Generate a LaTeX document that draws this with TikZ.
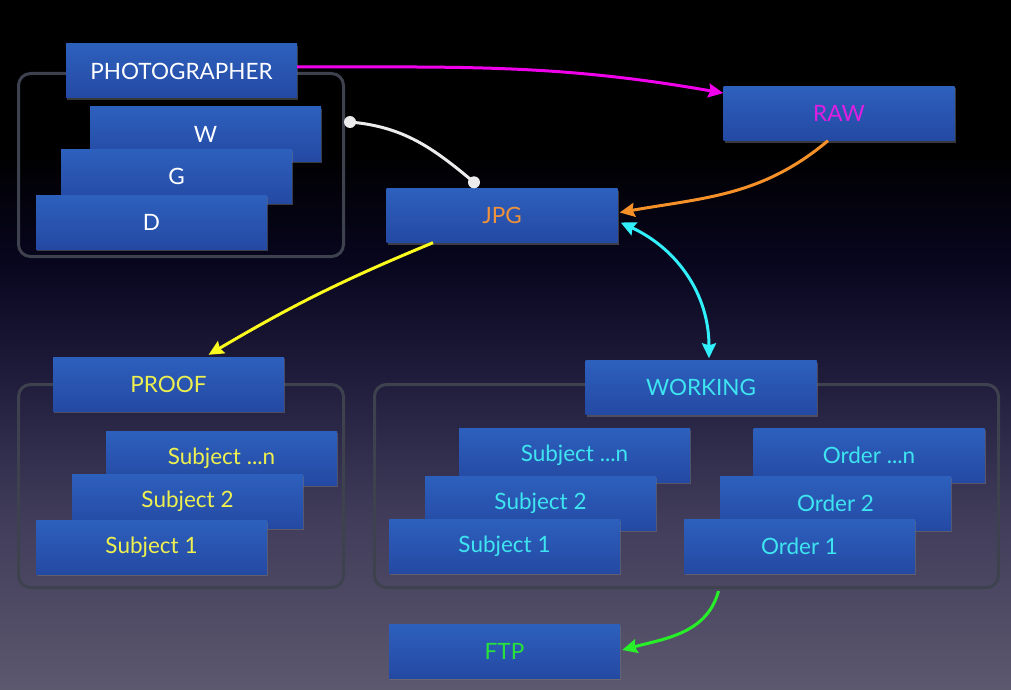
\documentclass[tikz,border=0pt]{standalone}
\usepackage{fontspec}
\setmainfont{Lato}
\usetikzlibrary{arrows.meta,calc,shadows}
\definecolor{bgA}{RGB}{92,88,110}
\definecolor{bgB}{RGB}{64,60,90}
\definecolor{bgC}{RGB}{32,28,60}
\definecolor{bgD}{RGB}{8,6,30}
\definecolor{boxtop}{RGB}{45,96,189}
\definecolor{boxbot}{RGB}{36,73,163}
\definecolor{framec}{RGB}{62,66,78}
\definecolor{tmag}{RGB}{226,30,226}
\definecolor{torange}{RGB}{240,146,58}
\definecolor{tyellow}{RGB}{238,240,80}
\definecolor{tcyan}{RGB}{62,228,240}
\definecolor{tgreen}{RGB}{40,226,60}
\definecolor{amag}{RGB}{240,0,235}
\definecolor{aorange}{RGB}{245,145,40}
\definecolor{ayellow}{RGB}{250,250,30}
\definecolor{acyan}{RGB}{50,240,250}
\definecolor{agreen}{RGB}{40,240,40}
\definecolor{dotc}{RGB}{236,236,236}
\pgfdeclareverticalshading{bgshade}{100bp}{color(0bp)=(bgA); color(25bp)=(bgA); color(37.5bp)=(bgB); color(47.5bp)=(bgC); color(56bp)=(bgD); color(64bp)=(black); color(100bp)=(black)}
\begin{document}
\begin{tikzpicture}[x=1pt,y=1pt,
  blk/.style={rectangle, minimum width=231pt, minimum height=54pt, inner sep=0pt,
    top color=boxtop, bottom color=boxbot,
    drop shadow={shadow xshift=1pt, shadow yshift=-2pt, opacity=0.45},
    font=\fontsize{22.5}{26}\selectfont},
  grp/.style={rectangle, draw=framec, line width=3pt, rounded corners=12pt, inner sep=0pt},
  conn/.style={line width=3pt, -{Stealth[length=15pt,width=14pt,inset=2pt]}},
  dconn/.style={line width=3pt, {Stealth[length=15pt,width=14pt,inset=2pt]}-{Stealth[length=15pt,width=14pt,inset=2pt]}},
]
\shade[shading=bgshade] (0,0) rectangle (1011,-690);
\useasboundingbox (0,0) rectangle (1011,-690);

% containers
\node[grp, minimum width=325pt, minimum height=183pt] (topbox) at (181,-165) {};
\node[grp, minimum width=325pt, minimum height=203pt] (pbox) at (181,-486) {};
\node[grp, minimum width=624pt, minimum height=203pt] (wbox) at (686.5,-486) {};

% photographer group
\node[blk, text=white] (photo) at (181.5,-71) {PHOTOGRAPHER};
\node[blk, text=white] (w) at (205.5,-134) {W};
\node[blk, text=white] (g) at (176.5,-176) {G};
\node[blk, text=white] (d) at (151.5,-222) {D};

\node[blk, text=torange] (jpg) at (502,-215.5) {JPG};
\node[blk, text=tmag] (raw) at (839,-113.5) {RAW};

% proof group
\node[blk, text=tyellow] (proof) at (168.5,-384) {PROOF};
\node[blk, text=tyellow] (psn) at (221.5,-458) {Subject ...n};
\node[blk, text=tyellow] (ps2) at (187.5,-501) {Subject 2};
\node[blk, text=tyellow] (ps1) at (151.5,-547) {Subject 1};

% working group
\node[blk, text=tcyan] (working) at (701,-387.5) {WORKING};
\node[blk, text=tcyan] (wsn) at (574.5,-455) {Subject ...n};
\node[blk, text=tcyan] (ws2) at (540.5,-503) {Subject 2};
\node[blk, text=tcyan] (ws1) at (504.5,-546) {Subject 1};
\node[blk, text=tcyan] (won) at (869,-455) {Order ...n};
\node[blk, text=tcyan] (wo2) at (835.5,-503) {Order 2};
\node[blk, text=tcyan] (wo1) at (799.5,-546) {Order 1};

\node[blk, text=tgreen] (ftp) at (504.5,-651) {FTP};

% connectors
\draw[conn, amag] ([yshift=4pt]photo.east) to[out=0, in=170] (raw.170);

\coordinate (wa) at ($(topbox.east)+(5,43)$);
\coordinate (wb) at ($(jpg.north)+(-28,6)$);
\draw[line width=3pt, dotc] (wa) to[out=-5, in=140] (wb);
\fill[dotc] (wa) circle (6pt);
\fill[dotc] (wb) circle (6pt);

\draw[conn, aorange] ($(raw.south)+(-11,0)$) to[out=220, in=10] ($(jpg.east)+(2,3)$);
\draw[dconn, acyan] ($(jpg.east)+(3,-7)$) to[out=-25, in=90] ($(working.north)+(8,2)$);
\draw[conn, ayellow] ($(jpg.south)+(-69,0)$) to[bend right=4] ($(proof.north)+(40,2)$);
\draw[conn, agreen] ($(wbox.south)+(32,-2)$) to[out=-105, in=15] ($(ftp.east)+(2,1)$);
\end{tikzpicture}
\end{document}
